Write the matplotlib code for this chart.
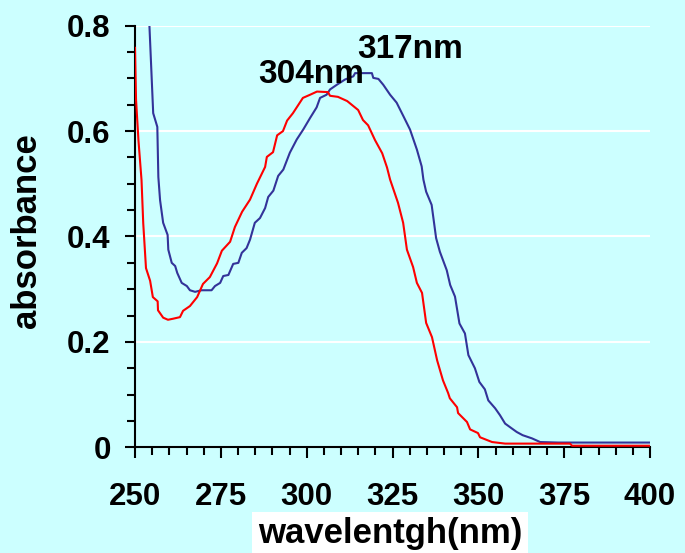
"""
absorbance spectra of the two samples
"""

import matplotlib
matplotlib.use("Agg")
import matplotlib.pyplot as plt
from matplotlib.ticker import MultipleLocator, FixedLocator, FixedFormatter

plt.rcParams['font.family'] = ['Liberation Sans', 'DejaVu Sans']
plt.rcParams['font.weight'] = 'bold'

# red spectrum (peak at 304 nm)
red_nm = [250.0, 250.3, 251.0, 251.9, 252.4, 253.2, 254.4, 255.2, 256.6, 256.7,
          258.2, 259.6, 261.1, 263.1, 264.0, 266.0, 268.1, 269.8, 271.8, 273.9,
          275.3, 277.7, 279.1, 281.2, 283.5, 285.5, 287.9, 288.4, 290.2, 291.4,
          293.1, 294.3, 296.0, 297.2, 298.9, 301.0, 303.0, 306.2, 306.8, 309.1,
          311.8, 315.0, 316.4, 317.9, 319.9, 322.0, 323.4, 324.3, 326.6, 328.1,
          329.2, 331.0, 332.1, 333.6, 334.8, 336.5, 338.0, 339.7, 341.2, 341.7,
          343.8, 344.1, 346.7, 347.6, 349.9, 350.5, 354.0, 357.8, 376.7, 377.3,
          400.0]
red_abs = [0.758, 0.66, 0.583, 0.507, 0.425, 0.34, 0.316, 0.285, 0.277, 0.26,
           0.246, 0.242, 0.244, 0.247, 0.259, 0.268, 0.285, 0.31, 0.323, 0.349,
           0.373, 0.39, 0.418, 0.447, 0.47, 0.50, 0.532, 0.551, 0.56, 0.592,
           0.60, 0.62, 0.634, 0.646, 0.663, 0.669, 0.675, 0.674, 0.667, 0.665,
           0.657, 0.64, 0.621, 0.611, 0.583, 0.558, 0.531, 0.508, 0.464, 0.426,
           0.375, 0.342, 0.312, 0.293, 0.236, 0.209, 0.165, 0.127, 0.103, 0.093,
           0.076, 0.065, 0.048, 0.034, 0.027, 0.019, 0.01, 0.007, 0.007, 0.003,
           0.003]

# blue spectrum (peak at 317 nm)
blue_nm = [254.0, 254.2, 255.3, 256.5, 256.8, 257.3, 257.8, 258.2, 259.5, 259.7,
           260.7, 261.7, 262.3, 263.6, 265.1, 266.0, 267.5, 269.4, 272.3, 273.3,
           274.8, 275.7, 277.2, 278.6, 280.1, 281.1, 282.5, 283.5, 284.9, 286.4,
           287.9, 288.8, 290.3, 291.7, 293.2, 295.1, 297.1, 299.0, 301.0, 302.9,
           303.9, 305.8, 306.8, 308.8, 311.2, 313.6, 314.1, 319.0, 319.4, 320.9,
           322.3, 324.3, 326.2, 328.2, 330.1, 332.1, 333.5, 334.0, 334.8, 336.4,
           337.7, 338.8, 340.8, 341.8, 343.2, 344.5, 346.1, 347.1, 349.0, 350.3,
           351.9, 352.9, 354.9, 356.3, 357.8, 359.7, 361.2, 362.9, 365.6, 368.0,
           373.3, 400.0]
blue_abs = [0.83, 0.80, 0.634, 0.608, 0.513, 0.469, 0.445, 0.426, 0.403, 0.375,
            0.35, 0.344, 0.331, 0.312, 0.306, 0.298, 0.295, 0.298, 0.298, 0.306,
            0.312, 0.325, 0.327, 0.348, 0.35, 0.369, 0.378, 0.394, 0.426, 0.435,
            0.454, 0.475, 0.487, 0.515, 0.527, 0.559, 0.584, 0.603, 0.625, 0.645,
            0.663, 0.669, 0.679, 0.688, 0.698, 0.704, 0.71, 0.71, 0.701, 0.699,
            0.688, 0.669, 0.654, 0.628, 0.603, 0.565, 0.533, 0.508, 0.485, 0.46,
            0.397, 0.371, 0.336, 0.308, 0.286, 0.235, 0.216, 0.175, 0.15, 0.124,
            0.11, 0.089, 0.074, 0.061, 0.045, 0.036, 0.029, 0.023, 0.017, 0.01,
            0.009, 0.009]

peak_labels = ["304nm", "317nm"]
peak_pos = [(285.9, 0.691), (314.6, 0.739)]

y_ticks = [0, 0.2, 0.4, 0.6, 0.8]
y_tick_labels = ["0", "0.2", "0.4", "0.6", "0.8"]
x_ticks = [250, 275, 300, 325, 350, 375, 400]

bg = '#CCFFFF'
fig = plt.figure(figsize=(6.85, 5.53), dpi=100, facecolor=bg)
ax = fig.add_axes([135 / 685, 1 - 447.3 / 553, 515 / 685, 421.6 / 553])
ax.set_facecolor(bg)

ax.plot(blue_nm, blue_abs, color='#333399', lw=1.5, zorder=3)
ax.plot(red_nm, red_abs, color='#FF0000', lw=1.5, zorder=3)

for label, (x, y) in zip(peak_labels, peak_pos):
    ax.text(x, y, label, fontsize=24, fontweight='bold', ha='left',
            va='baseline', zorder=5)

ax.set_xlim(250, 400)
ax.set_ylim(0, 0.8)
ax.xaxis.set_major_locator(FixedLocator(x_ticks))
ax.xaxis.set_minor_locator(MultipleLocator(5))
ax.yaxis.set_major_locator(FixedLocator(y_ticks))
ax.yaxis.set_major_formatter(FixedFormatter(y_tick_labels))
ax.yaxis.set_minor_locator(MultipleLocator(0.05))

ax.yaxis.grid(True, which='major', color='white', lw=1.5)
ax.set_axisbelow(True)

for side in ['top', 'right']:
    ax.spines[side].set_visible(False)
for side in ['left', 'bottom']:
    ax.spines[side].set_linewidth(1.5)

ax.tick_params(axis='x', which='major', length=8, width=1.5, pad=17,
               labelsize=22.5)
ax.tick_params(axis='x', which='minor', length=6, width=1.5)
ax.tick_params(axis='y', which='major', length=7.5, width=1.5, pad=10,
               labelsize=22.5)
ax.tick_params(axis='y', which='minor', length=6, width=1.5)
for lab in ax.get_xticklabels() + ax.get_yticklabels():
    lab.set_fontweight('bold')

fig.text(27 / 685, 1 - 231 / 553, "absorbance", rotation=90, fontsize=25,
         fontweight='bold', ha='center', va='center')
fig.text(390 / 685, 9.7 / 553, "wavelentgh(nm)", fontsize=25,
         fontweight='bold', ha='center', va='baseline',
         bbox=dict(facecolor='white', edgecolor='none', pad=4))

fig.savefig("out.png", dpi=100, facecolor=bg)
